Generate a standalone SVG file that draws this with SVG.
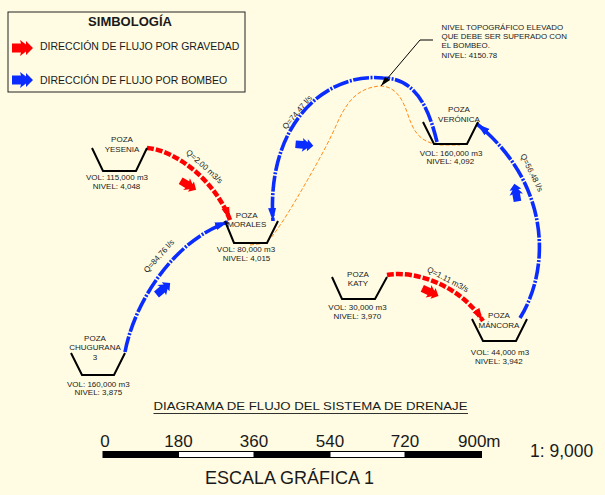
<svg xmlns="http://www.w3.org/2000/svg" width="605" height="495" viewBox="0 0 605 495">
<style>
text{font-family:"Liberation Sans",Arial,sans-serif;fill:#1a1a1a}
.lbl{font-size:8px;text-anchor:middle}
.q{font-size:8px;text-anchor:middle}
.poza{fill:none;stroke:#000;stroke-width:2}
.red{fill:none;stroke:#ff0000;stroke-width:4.5;stroke-dasharray:7 2}
.blue{fill:none;stroke:#0a2cff;stroke-width:3.6;stroke-dasharray:16 1.5 2 1.5}
.topo{fill:none;stroke:#ff8c1a;stroke-width:1;stroke-dasharray:4 2}
.fa-r{fill:#ff0000}
.fa-b{fill:#0a2cff}
.num{font-size:17px;text-anchor:middle}
</style>
<defs>
<marker id="ahB" markerUnits="userSpaceOnUse" markerWidth="15" markerHeight="12" refX="13" refY="5" orient="auto">
<path d="M0,1 L13,5 L0,9 Z" fill="#0a2cff"/>
</marker>
<marker id="ahR" markerUnits="userSpaceOnUse" markerWidth="15" markerHeight="12" refX="13" refY="5" orient="auto">
<path d="M0,1 L13,5 L0,9 Z" fill="#ff0000"/>
</marker>
<marker id="ahK" markerUnits="userSpaceOnUse" markerWidth="12" markerHeight="10" refX="10" refY="4" orient="auto">
<path d="M0,1 L10,4 L0,7 Z" fill="#000"/>
</marker>
<path id="flow" d="M-10,-4.5 L-1,-4.5 L-2,-8 L4,-3.5 L4,-7 L11,0 L4,7 L4,3.5 L-2,8 L-1,4.5 L-10,4.5 Z"/>
</defs>
<rect width="605" height="495" fill="#fffce3"/>

<g id="legend">
<rect x="8" y="12" width="237" height="80" fill="none" stroke="#222" stroke-width="1"/>
<text x="130" y="26" font-size="13" font-weight="bold" text-anchor="middle">SIMBOLOGÍA</text>
<use href="#flow" class="fa-r" transform="translate(22,48)"/>
<text x="40" y="50" font-size="10.5">DIRECCIÓN DE FLUJO POR GRAVEDAD</text>
<use href="#flow" class="fa-b" transform="translate(22,80)"/>
<text x="40" y="83.5" font-size="10.5">DIRECCIÓN DE FLUJO POR BOMBEO</text>
</g>

<g id="connectors">
<path class="topo" d="M250,245 L266,243 C275,235 290,210 300,193 C312,172 325,150 335,128 C345,105 355,88 380,86 C395,86 402,98 407,112 C413,130 418,142 440,145 L460,145"/>
<path class="red" d="M147,148 C175,150 215,180 230,220" marker-end="url(#ahR)"/>
<path class="red" d="M387,275 C415,270 460,285 483,321" marker-end="url(#ahR)"/>
<path class="blue" d="M125,352 C135,300 175,240 228,222" marker-end="url(#ahB)"/>
<path class="blue" d="M437,142 C429,109 416,78 383,78 C325,72 266,125 273,221" marker-end="url(#ahB)"/>
<path class="blue" d="M520,318 C550,270 552,185 477,124" marker-end="url(#ahB)"/>
<path d="M433,40 L420,40 L381,86" fill="none" stroke="#000" stroke-width="1" marker-end="url(#ahK)"/>
<use href="#flow" class="fa-r" transform="translate(188,185) rotate(30) scale(0.85)"/>
<use href="#flow" class="fa-r" transform="translate(430,292) rotate(25) scale(0.85)"/>
<use href="#flow" class="fa-b" transform="translate(163,289) rotate(-40) scale(0.85)"/>
<use href="#flow" class="fa-b" transform="translate(304,145) rotate(5) scale(0.85)"/>
<use href="#flow" class="fa-b" transform="translate(516,193) rotate(-100) scale(0.85)"/>
<text class="q" transform="translate(204,167) rotate(42)" y="2">Q=2.00 m3/s</text>
<text class="q" transform="translate(159.5,256.5) rotate(-48.5)" y="2">Q=84.76 l/s</text>
<text class="q" transform="translate(297,112) rotate(-50)" y="3">Q=74.47 l/s</text>
<text class="q" transform="translate(532,172.5) rotate(63.5)" y="3">Q=56.48 l/s</text>
<text class="q" transform="translate(447.5,280) rotate(27.5)" y="2">Q=1.11 m3/s</text>
</g>

<g id="note">
<text x="441.5" y="29.5" font-size="7.9">NIVEL TOPOGRÁFICO ELEVADO</text>
<text x="441.5" y="39" font-size="7.9">QUE DEBE SER SUPERADO CON</text>
<text x="441.5" y="48" font-size="7.9">EL BOMBEO.</text>
<text x="441.5" y="57.5" font-size="7.9">NIVEL: 4150.78</text>
</g>

<g id="poza-yesenia">
<path class="poza" d="M92,148 L103,171 L136,171 L147,148"/>
<text class="lbl" x="122" y="141.5">POZA</text>
<text class="lbl" x="122" y="152">YESENIA</text>
<text class="lbl" x="117" y="179.5">VOL: 115,000 m3</text>
<text class="lbl" x="116.5" y="188.5">NIVEL: 4,048</text>
</g>

<g id="poza-morales">
<path class="poza" d="M225,221 L234,243 L267,243 L278,221"/>
<text class="lbl" x="246.7" y="217.5">POZA</text>
<text class="lbl" x="246.7" y="226.5">MORALES</text>
<text class="lbl" x="246" y="251.5">VOL: 80,000 m3</text>
<text class="lbl" x="246.5" y="261">NIVEL: 4,015</text>
</g>

<g id="poza-veronica">
<path class="poza" d="M423,122 L434,144 L467,144 L478,122"/>
<text class="lbl" x="459" y="111.5">POZA</text>
<text class="lbl" x="459" y="122">VERÓNICA</text>
<text class="lbl" x="451" y="155.5">VOL: 160,000 m3</text>
<text class="lbl" x="450.3" y="164">NIVEL: 4,092</text>
</g>

<g id="poza-katy">
<path class="poza" d="M332,277 L342,299 L375,299 L387,277"/>
<text class="lbl" x="358" y="276.5">POZA</text>
<text class="lbl" x="358" y="285.5">KATY</text>
<text class="lbl" x="357.5" y="309.5">VOL: 30,000 m3</text>
<text class="lbl" x="357.3" y="318.5">NIVEL: 3,970</text>
</g>

<g id="poza-mancora">
<path class="poza" d="M472,319 L483,341 L516,341 L527,319"/>
<text class="lbl" x="499" y="317.5">POZA</text>
<text class="lbl" x="499" y="328">MÁNCORA</text>
<text class="lbl" x="500" y="354.5">VOL: 44,000 m3</text>
<text class="lbl" x="498.8" y="363.5">NIVEL: 3,942</text>
</g>

<g id="poza-chugurana">
<path class="poza" d="M71,353 L82,375 L114,375 L125,353"/>
<text class="lbl" x="95" y="340.5">POZA</text>
<text class="lbl" x="95" y="350">CHUGURANA</text>
<text class="lbl" x="95" y="359.5">3</text>
<text class="lbl" x="98.3" y="386.5">VOL: 160,000 m3</text>
<text class="lbl" x="98.3" y="395">NIVEL: 3,875</text>
</g>

<g id="title">
<text x="153.5" y="410" font-size="10.5" textLength="314" lengthAdjust="spacingAndGlyphs">DIAGRAMA DE FLUJO DEL SISTEMA DE DRENAJE</text>
<line x1="153.5" y1="413.5" x2="468" y2="413.5" stroke="#1a1a1a" stroke-width="0.9"/>
</g>

<g id="scale">
<text class="num" x="105" y="446.5">0</text>
<text class="num" x="178.5" y="446.5">180</text>
<text class="num" x="254" y="446.5">360</text>
<text class="num" x="330" y="446.5">540</text>
<text class="num" x="405" y="446.5">720</text>
<text x="458" y="446.5" font-size="17">900m</text>
<rect x="102.5" y="451" width="76" height="7" fill="#000"/>
<rect x="178.5" y="451.5" width="75.5" height="6" fill="#fff" stroke="#000" stroke-width="1"/>
<rect x="254" y="451" width="76" height="7" fill="#000"/>
<rect x="330" y="451.5" width="75" height="6" fill="#fff" stroke="#000" stroke-width="1"/>
<rect x="405" y="451" width="77" height="7" fill="#000"/>
<text x="530" y="456.5" font-size="17.5">1: 9,000</text>
<text x="205" y="483.5" font-size="18">ESCALA GRÁFICA 1</text>
</g>
</svg>
